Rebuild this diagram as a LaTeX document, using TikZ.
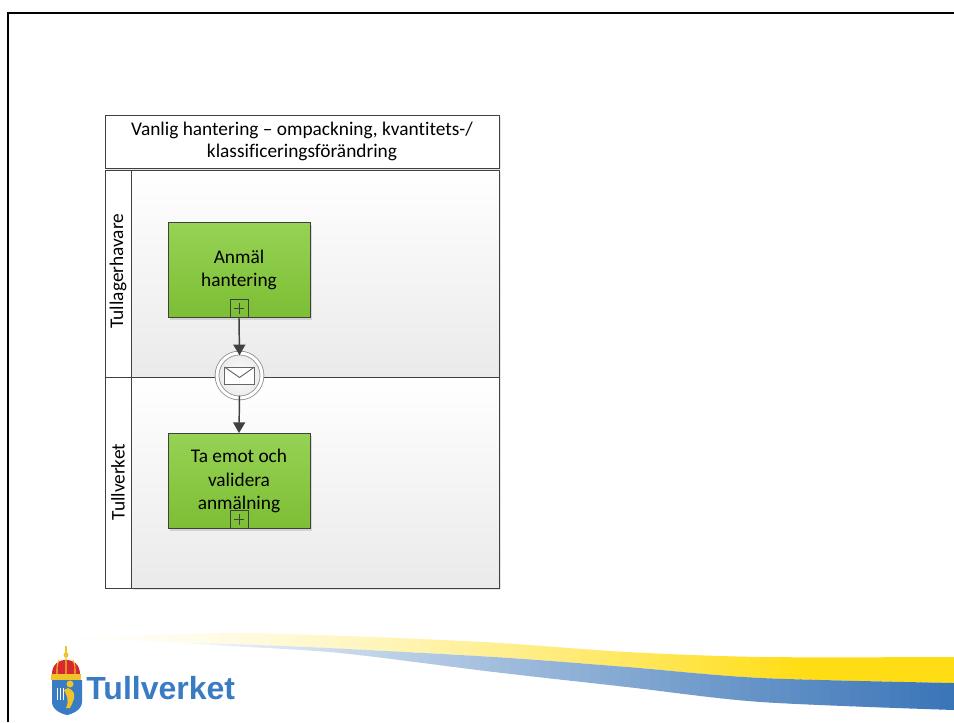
\documentclass[tikz,border=0pt]{standalone}
\usepackage{fontspec}
\setmainfont{Carlito}[Ligatures={NoCommon,NoContextual},Contextuals=NoAlternate]
\newfontfamily\logofont{Liberation Sans}
\usetikzlibrary{arrows.meta,shadows}

\definecolor{lanegray}{RGB}{234,234,234}
\definecolor{taskgreenA}{RGB}{150,210,84}
\definecolor{taskgreenB}{RGB}{124,190,52}
\definecolor{linegray}{RGB}{64,64,64}
\definecolor{swyellow}{RGB}{255,221,21}
\definecolor{swblue}{RGB}{58,117,184}
\definecolor{logoblue}{RGB}{58,124,196}
\definecolor{crownred}{RGB}{214,40,48}
\definecolor{crowngold}{RGB}{240,196,40}

\tikzset{
  lanebox/.style={draw=linegray, line width=0.75pt, top color=white, bottom color=lanegray,
    drop shadow={shadow xshift=1.5pt, shadow yshift=-1.5pt, opacity=0.2}},
  stripbox/.style={draw=linegray, line width=0.75pt, fill=white},
  task/.style={draw=linegray, line width=0.75pt, top color=taskgreenA, bottom color=taskgreenB,
    minimum width=106.5pt, minimum height=71.25pt, inner sep=0pt, align=center,
    font=\fontsize{14.5}{17.8}\selectfont,
    drop shadow={shadow xshift=1.5pt, shadow yshift=-1.5pt, opacity=0.25}},
  submarker/.style={draw=linegray, line width=0.6pt, minimum width=13.5pt, minimum height=14pt, inner sep=0pt,
    path picture={\draw[line width=0.5pt, linegray]
      ([xshift=-4pt]path picture bounding box.center) -- ([xshift=4pt]path picture bounding box.center)
      ([yshift=-4pt]path picture bounding box.center) -- ([yshift=4pt]path picture bounding box.center);}},
  msgevent/.style={circle, draw=black!45, line width=0.6pt, double=white, double distance=2.25pt,
    inner color=white, outer color=black!8, minimum size=33.75pt, inner sep=0pt},
  flow/.style={draw=linegray, line width=1.1pt, -{Triangle[width=9pt,length=8pt]}},
}

\begin{document}
\begin{tikzpicture}[x=0.75pt,y=-0.75pt,font=\fontsize{14.5}{16.5}\selectfont]
	\useasboundingbox (0,0) rectangle (954,722);
	% slide frame
	\draw[line width=1.5pt] (8,722) -- (8,13) -- (954,13);
	% pool header
	\node[draw=linegray, line width=0.75pt, fill=white, minimum width=295.5pt, minimum height=39.75pt,
	  align=center, inner sep=0pt, drop shadow={shadow xshift=1.5pt, shadow yshift=-1.5pt, opacity=0.2}]
	  (pool) at (302,141.5) {Vanlig hantering – ompackning, kvantitets-/\\klassificeringsförändring};
	% lanes
	\draw[lanebox] (131,170) rectangle (499,377);
	\draw[stripbox] (105,170) rectangle (131,377);
	\draw[lanebox] (131,377) rectangle (499,588);
	\draw[stripbox] (105,377) rectangle (131,588);
	\node[rotate=90] (laneA) at (118,271) {Tullagerhavare};
	\node[rotate=90] (laneB) at (118,482) {Tullverket};
	% tasks
	\node[task] (anmal) at (239,270) {Anmäl\\hantering};
	\node[submarker, anchor=south] (anmalsub) at (anmal.south) {};
	\node[task] (taemot) at (239,481) {Ta emot och\\validera\\anmälning};
	\node[submarker, anchor=south] (taemotsub) at (taemot.south) {};
	% message event
	\node[msgevent] (msg) at (239.5,375.5) {};
	\draw[black!60, line width=0.7pt, fill=white] ([shift={(-15,-8.5)}]msg.center) coordinate (envtl)
	  rectangle ++(30,17) coordinate (envbr);
	\draw[black!60, line width=0.7pt] (envtl) -- ([yshift=-1.5]msg.center) -- (envtl -| envbr);
	% flows
	\draw[flow] (anmalsub.south) -- ([yshift=-2]msg.north);
	\draw[flow] ([yshift=2]msg.south) -- (taemot.north);
	% swoosh, yellow band
	\begin{scope}
		\clip plot[smooth] coordinates {(45,639) (150,635) (240,633) (373,637) (500,643) (627,652) (761,657) (954,657)}
		  -- plot[smooth] coordinates {(954,683) (761,678) (627,667) (494,657) (307,647) (173,642) (100,640)} -- cycle;
		\foreach \sx in {40,50,...,950} {
			\pgfmathsetmacro\yp{min(100,100*((\sx+5-40)/760)^1.5)}
			\fill[swyellow!\yp!white] (\sx,625) rectangle ++(11,65);
		}
	\end{scope}
	% swoosh, blue band
	\begin{scope}
		\clip plot[smooth] coordinates {(180,643) (230,646) (340,653) (494,672) (627,687) (761,702) (954,710)}
		  -- plot[smooth] coordinates {(954,683) (761,678) (627,667) (494,657) (307,647) (200,643)} -- cycle;
		\foreach \sx in {180,190,...,950} {
			\pgfmathsetmacro\bp{min(100,100*((\sx+5-170)/784)^0.85)}
			\fill[swblue!\bp!white] (\sx,640) rectangle ++(11,75);
		}
	\end{scope}
	% logo
	\fill[crowngold] (65,646) -- (67,646) -- (67,656) -- (65,656) -- cycle;
	\fill[crowngold] (66,655) circle (2.5);
	\fill[crownred] (52,674) .. controls (52,655) and (80,655) .. (80,674) -- cycle;
	\draw[crowngold, line width=0.8pt] (66,657) -- (66,674) (59,660) .. controls (57,665) .. (57,674)
	  (73,660) .. controls (75,665) .. (75,674);
	\fill[crowngold] (51,674) rectangle (81,680);
	\fill[logoblue] (52,680) -- (82,680) -- (82,702) .. controls (82,710) and (72,714) .. (67,715)
	  .. controls (62,714) and (52,710) .. (52,702) -- cycle;
	\draw[white, line width=0.5pt] (55,688) grid[step=3] (65,700);
	\fill[crowngold] (70,684) circle (3.5);
	\fill[crowngold] (68,688) .. controls (78,692) and (74,700) .. (70,708) -- (66,708)
	  .. controls (70,700) and (66,694) .. (64,690) -- cycle;
	\node[anchor=base west, inner sep=0pt, font=\logofont\bfseries\fontsize{24}{24}\selectfont, text=logoblue]
	  (logo) at (86,699) {Tullverket};
\end{tikzpicture}
\end{document}
